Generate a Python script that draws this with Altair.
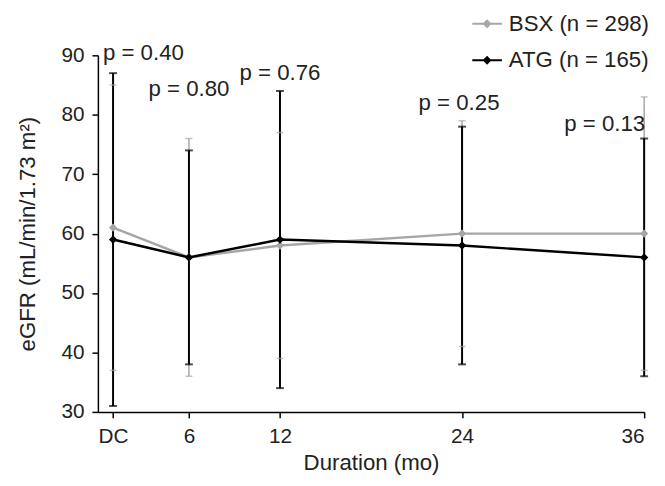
import altair as alt
import pandas as pd

months = [1, 6, 12, 24, 36]
bsx_mean = [61, 56, 58, 60, 60]
bsx_lo = [37, 36, 39, 41, 37]
bsx_hi = [85, 76, 77, 79, 83]
atg_mean = [59, 56, 59, 58, 56]
atg_lo = [31, 38, 34, 38, 36]
atg_hi = [87, 74, 84, 78, 76]

p_labels = ["p = 0.40", "p = 0.80", "p = 0.76", "p = 0.25", "p = 0.13"]
p_x = [3, 6, 12, 23.8, 33.4]
p_y = [90.3, 84.4, 87.0, 82.0, 78.4]

BSX = "BSX (n = 298)"
ATG = "ATG (n = 165)"
FONT = "Liberation Sans"
TXT = "#222222"

rows = []
for i, m in enumerate(months):
    rows.append({"month": m, "group": BSX, "mean": bsx_mean[i], "lo": bsx_lo[i], "hi": bsx_hi[i]})
for i, m in enumerate(months):
    rows.append({"month": m, "group": ATG, "mean": atg_mean[i], "lo": atg_lo[i], "hi": atg_hi[i]})
df = pd.DataFrame(rows)
bsx = df[df.group == BSX]
atg = df[df.group == ATG]

pdf = pd.DataFrame({"x": p_x, "y": p_y, "label": p_labels})

xscale = alt.Scale(domain=[0, 36], nice=False, zero=False)
yscale = alt.Scale(domain=[30, 90], nice=False, zero=False)
legend_path = "M-1,-0.07L1,-0.07L1,0.07L-1,0.07Z M0,-0.3L0.3,0L0,0.3L-0.3,0Z"
color = alt.Color(
    "group:N",
    scale=alt.Scale(domain=[BSX, ATG], range=["#a6a6a6", "#000000"]),
    legend=alt.Legend(
        title=None, orient="none", legendX=379, legendY=-47,
        symbolType=legend_path, symbolSize=900, symbolStrokeWidth=0,
        labelFontSize=22.5, labelFont=FONT, labelColor=TXT,
        rowPadding=10, labelOffset=7,
    ),
)

axis_common = dict(
    grid=False, domainColor="#000000", domainWidth=1.5, tickColor="#000000",
    tickWidth=1.5, tickSize=6, labelFontSize=21, titleFontSize=22.5,
    labelFont=FONT, titleFont=FONT, labelColor=TXT, titleColor=TXT,
    titleFontWeight="normal",
)

xenc = alt.X(
    "month:Q", scale=xscale,
    axis=alt.Axis(values=months, title="Duration (mo)",
                  labelExpr="datum.value == 1 ? 'DC' : datum.label",
                  labelPadding=8, titlePadding=5, **axis_common),
)
yenc = alt.Y(
    "mean:Q", scale=yscale,
    axis=alt.Axis(values=[30, 40, 50, 60, 70, 80, 90], title="eGFR (mL/min/1.73 m²)",
                  labelPadding=8, titlePadding=22, **axis_common),
)


def errbars(d, col, w, cap):
    base = alt.Chart(d)
    rule = base.mark_rule(color=col, strokeWidth=w).encode(
        x=alt.X("month:Q", scale=xscale),
        y=alt.Y("lo:Q", scale=yscale),
        y2="hi:Q",
    )
    lo = base.mark_tick(color=col, orient="horizontal", size=cap, thickness=w).encode(
        x=alt.X("month:Q", scale=xscale), y=alt.Y("lo:Q", scale=yscale))
    hi = base.mark_tick(color=col, orient="horizontal", size=cap, thickness=w).encode(
        x=alt.X("month:Q", scale=xscale), y=alt.Y("hi:Q", scale=yscale))
    return rule, lo, hi


g_rule, g_lo, g_hi = errbars(bsx, "#a6a6a6", 1.5, 7)
b_rule, b_lo, b_hi = errbars(atg, "#000000", 2, 8)


def series(d):
    base = alt.Chart(d)
    line = base.mark_line(strokeWidth=2.5).encode(x=xenc, y=yenc, color=color)
    pts = base.mark_point(shape="diamond", filled=True, size=70, opacity=1).encode(
        x=xenc, y=yenc, color=color)
    return line, pts


g_line, g_pts = series(bsx)
b_line, b_pts = series(atg)

ptext = alt.Chart(pdf).mark_text(fontSize=22.5, font=FONT, color=TXT).encode(
    x=alt.X("x:Q", scale=xscale), y=alt.Y("y:Q", scale=yscale), text="label:N")

chart = alt.layer(
    g_rule, b_rule, g_lo, g_hi, b_lo, b_hi,
    g_line, g_pts, b_line, b_pts, ptext,
).properties(
    width=553, height=361,
    autosize=alt.AutoSizeParams(type="none"),
    padding={"left": 91, "top": 45, "right": 13, "bottom": 64},
).configure_view(stroke=None)

chart.save("out.html", embed_options={"renderer": "svg", "actions": False})
